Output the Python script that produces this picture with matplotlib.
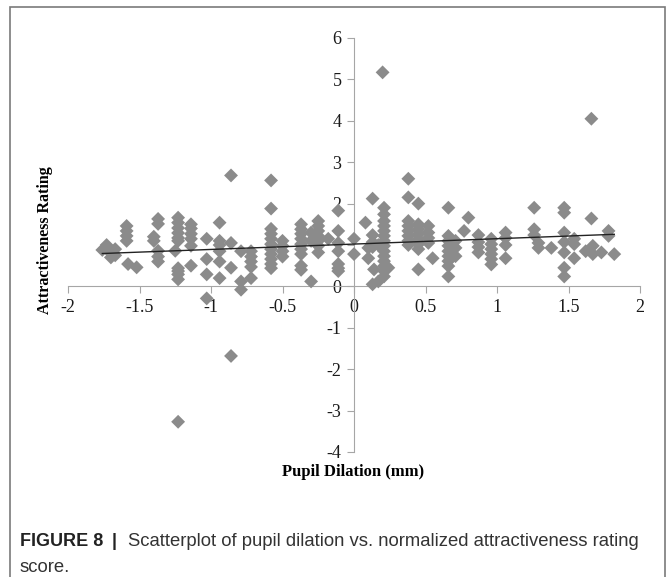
import numpy as np
import matplotlib
matplotlib.use('Agg')
from matplotlib import pyplot as plt
from matplotlib.patches import Rectangle

# Pupil dilation (mm) and normalized attractiveness rating
# column by column (the x values come in clusters).
dilation = [
    -1.76, -1.73, -1.73, -1.70, -1.70, -1.67, -1.67,
    -1.59, -1.59, -1.59, -1.59, -1.58, -1.52,
    -1.40, -1.40, -1.37, -1.37, -1.37, -1.37, -1.37,
    -1.25, -1.23, -1.23, -1.23, -1.23, -1.23, -1.23, -1.23, -1.23, -1.23, -1.23, -1.23,
    -1.14, -1.14, -1.14, -1.14, -1.14, -1.14,
    -1.03, -1.03, -1.03, -1.03,
    -0.94, -0.94, -0.94, -0.94, -0.94, -0.94,
    -0.86, -0.86, -0.86, -0.86,
    -0.79, -0.79, -0.79,
    -0.72, -0.72, -0.72, -0.72, -0.72,
    -0.58, -0.58, -0.58, -0.58, -0.58, -0.58, -0.58, -0.58, -0.58, -0.58, -0.58,
    -0.50, -0.50, -0.50, -0.50,
    -0.37, -0.37, -0.37, -0.37, -0.37, -0.37, -0.37, -0.37, -0.37,
    -0.30, -0.30, -0.30,
    -0.25, -0.25, -0.25, -0.25, -0.25, -0.25, -0.25,
    -0.18,
    -0.11, -0.11, -0.11, -0.11, -0.11, -0.11, -0.11,
    0.00, 0.00,
    0.08, 0.10, 0.10,
    0.13, 0.13, 0.13, 0.13, 0.13, 0.14, 0.17, 0.17,
    0.20,
    0.21, 0.21, 0.21, 0.21, 0.21, 0.21, 0.21, 0.21, 0.21, 0.21, 0.21, 0.21, 0.21, 0.21,
    0.24,
    0.38, 0.38, 0.38, 0.38, 0.38, 0.38, 0.38, 0.38,
    0.45, 0.45, 0.45, 0.45, 0.45, 0.45, 0.45, 0.45,
    0.52, 0.52, 0.52, 0.52, 0.55,
    0.66, 0.66, 0.66, 0.66, 0.66, 0.66, 0.66, 0.66, 0.66,
    0.71, 0.71, 0.71, 0.77, 0.80,
    0.87, 0.87, 0.87, 0.87,
    0.96, 0.96, 0.96, 0.96, 0.96, 0.96,
    1.06, 1.06, 1.06, 1.06,
    1.26, 1.26, 1.26, 1.29, 1.29, 1.38,
    1.47, 1.47, 1.47, 1.47, 1.47, 1.47, 1.47,
    1.54, 1.54, 1.54, 1.62,
    1.66, 1.66, 1.67, 1.67, 1.73,
    1.78, 1.78, 1.82,
]
rating = [
    0.88, 1.00, 0.95, 0.70, 0.80, 0.75, 0.90,
    1.46, 1.34, 1.22, 1.10, 0.54, 0.46,
    1.20, 1.10, 1.63, 1.51, 0.86, 0.72, 0.60,
    0.86, 1.66, 1.54, 1.41, 1.29, 1.17, 1.10, 0.44, 0.37, 0.29, 0.17, -3.27,
    1.50, 1.40, 1.27, 1.15, 0.98, 0.50,
    1.15, 0.66, 0.29, -0.29,
    1.54, 1.10, 1.00, 0.85, 0.60, 0.20,
    2.68, 1.05, 0.45, -1.68,
    0.85, 0.12, -0.08,
    0.85, 0.72, 0.60, 0.47, 0.20,
    2.56, 1.88, 1.39, 1.27, 1.15, 1.02, 0.90, 0.78, 0.66, 0.54, 0.44,
    1.10, 0.98, 0.85, 0.72,
    1.50, 1.38, 1.27, 1.15, 1.02, 0.90, 0.78, 0.50, 0.40,
    1.30, 1.10, 0.12,
    1.58, 1.46, 1.34, 1.22, 1.10, 0.98, 0.82,
    1.15,
    1.83, 1.34, 1.05, 0.85, 0.54, 0.44, 0.37,
    1.15, 0.78,
    1.54, 0.93, 0.68,
    2.12, 1.24, 1.07, 0.95, 0.05, 0.41, 0.12, 1.00,
    5.17,
    1.90, 1.74, 1.58, 1.46, 1.34, 1.22, 1.10, 0.98, 0.85, 0.73, 0.61, 0.49, 0.37, 0.24,
    0.45,
    2.60, 2.15, 1.58, 1.46, 1.34, 1.22, 1.10, 1.00,
    2.00, 1.50, 1.38, 1.26, 1.14, 1.02, 0.90, 0.41,
    1.46, 1.30, 1.17, 1.05, 0.68,
    1.90, 1.22, 1.10, 0.98, 0.85, 0.73, 0.61, 0.49, 0.24,
    1.10, 0.93, 0.73, 1.34, 1.66,
    1.24, 1.07, 0.95, 0.82,
    1.15, 1.02, 0.90, 0.78, 0.66, 0.53,
    1.30, 1.17, 1.00, 0.68,
    1.90, 1.38, 1.24, 1.05, 0.93, 0.93,
    1.90, 1.78, 1.30, 1.07, 0.82, 0.45, 0.24,
    1.15, 1.02, 0.68, 0.85,
    1.64, 4.05, 0.98, 0.78, 0.82,
    1.34, 1.22, 0.78,
]

x_ticks = [-2, -1.5, -1, -0.5, 0, 0.5, 1, 1.5, 2]
y_ticks = [-4, -3, -2, -1, 0, 1, 2, 3, 4, 5, 6]

x = np.array(dilation)
y = np.array(rating)
# linear trendline, as Excel would add it
slope, intercept = np.polyfit(x, y, 1)

fig = plt.figure(figsize=(6.68, 5.77), dpi=100)
ax = fig.add_axes([68 / 668, 1 - 452 / 577, 572 / 668, 414 / 577])

ax.scatter(x, y, marker='D', s=50, color='#8b8b8b', edgecolors='none', zorder=3)
xs = np.array([x.min(), x.max()])
ax.plot(xs, slope * xs + intercept, color='#222222', lw=1.0, zorder=4)

ax.set_xlim(-2, 2)
ax.set_ylim(-4, 6)
ax.set_xticks(x_ticks)
ax.set_yticks(y_ticks)
ax.set_xticklabels(['-2', '-1.5', '-1', '-0.5', '0', '0.5', '1', '1.5', '2'])
ax.set_yticklabels([str(v) for v in y_ticks])

# Excel style: axes cross at the origin
for side in ['top', 'right']:
    ax.spines[side].set_visible(False)
ax.spines['left'].set_position(('data', 0))
ax.spines['bottom'].set_position(('data', 0))
ax.spines['left'].set_color('#a6a6a6')
ax.spines['bottom'].set_color('#a6a6a6')
ax.tick_params(axis='both', direction='out', length=5, width=0.8, color='#a6a6a6',
               labelsize=13, pad=4, labelcolor='#1a1a1a')
for lab in ax.get_xticklabels() + ax.get_yticklabels():
    lab.set_fontfamily('Liberation Serif')
ax.patch.set_alpha(0)

fig.text(45 / 668, 1 - 240 / 577, 'Attractiveness Rating', rotation=90,
         ha='center', va='center', fontsize=11.5, fontweight='bold',
         family='Liberation Serif')
fig.text(353 / 668, 1 - 472 / 577, 'Pupil Dilation (mm)', ha='center', va='center',
         fontsize=12, fontweight='bold', family='Liberation Serif')

# caption
fig.text(20 / 668, 1 - 541 / 577, 'FIGURE 8', ha='left', va='center',
         fontsize=13, fontweight='bold', family='Liberation Sans', color='#222222')
fig.text(112 / 668, 1 - 541 / 577, '|', ha='left', va='center',
         fontsize=13, fontweight='bold', family='Liberation Sans', color='#222222')
fig.text(128 / 668, 1 - 541 / 577,
         'Scatterplot of pupil dilation vs. normalized attractiveness rating',
         ha='left', va='center', fontsize=13.3, family='Liberation Sans', color='#333333')
fig.text(20 / 668, 1 - 568 / 577, 'score.', ha='left', va='center',
         fontsize=13.3, family='Liberation Sans', color='#333333')

# frame around the figure, open at the bottom edge
fig.patches.append(Rectangle((10 / 668, -0.05), 655 / 668, 1.05 - 7 / 577,
                             transform=fig.transFigure, fill=False,
                             edgecolor='#7a7a7a', lw=1.2))

fig.savefig('out.png', dpi=100)
